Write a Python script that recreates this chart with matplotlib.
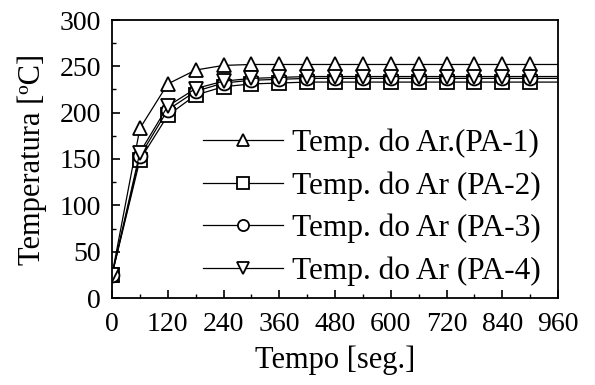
import matplotlib.pyplot as plt
from matplotlib.ticker import MultipleLocator

plt.rcParams['font.family'] = ['Liberation Serif', 'DejaVu Serif']

tempo = [0, 60, 120, 180, 240, 300, 360, 420, 480, 540, 600, 660, 720, 780, 840, 900, 960]
pa1 = [25, 183, 231, 246, 251, 252, 252, 252, 252, 252, 252, 252, 252, 252, 252, 252, 252]
pa2 = [25, 149, 197, 219, 228, 231, 232, 233, 233, 233, 233, 233, 233, 233, 233, 233, 233]
pa3 = [25, 153, 203, 223, 232, 235, 236, 237, 237, 237, 237, 237, 237, 237, 237, 237, 237]
pa4 = [25, 157, 207, 226, 234, 237, 238, 239, 239, 239, 239, 239, 239, 239, 239, 239, 239]
labels = ['Temp. do Ar.(PA-1)', 'Temp. do Ar (PA-2)', 'Temp. do Ar (PA-3)', 'Temp. do Ar (PA-4)']
markers = ['^', 's', 'o', 'v']

fig = plt.figure(figsize=(5.95, 3.85), dpi=100)
ax = fig.add_axes([112 / 595, 87 / 385, 446 / 595, 278 / 385])

for serie, m, lab in zip([pa1, pa2, pa3, pa4], markers, labels):
    ax.plot(tempo, serie, color='black', lw=0.9, marker=m, ms=10,
            mfc='white', mec='black', mew=1.3, markevery=list(range(len(tempo) - 1)),
            label=lab)

ax.set_xlim(0, 960)
ax.set_ylim(0, 300)
ax.xaxis.set_major_locator(MultipleLocator(120))
ax.xaxis.set_minor_locator(MultipleLocator(60))
ax.yaxis.set_major_locator(MultipleLocator(50))
ax.yaxis.set_minor_locator(MultipleLocator(25))
ax.tick_params(which='both', direction='in', labelsize=20, top=False, right=False)
ax.tick_params(which='major', length=6, width=1.2)
ax.tick_params(axis='y', which='major', pad=8)
ax.tick_params(axis='x', which='major', pad=10)
ax.tick_params(which='minor', length=3, width=1.0)
for s in ax.spines.values():
    s.set_linewidth(1.3)

ax.set_xlabel('Tempo [seg.]', fontsize=22, labelpad=6)
ax.set_ylabel('Temperatura [ºC]', fontsize=22, labelpad=9)

ax.legend(loc='upper left', bbox_to_anchor=(0.205, 0.61), frameon=False, fontsize=22.5,
          handlelength=2.55, handletextpad=0.3, labelspacing=0.42, borderaxespad=0,
          borderpad=0, markerscale=0.8)

fig.savefig('out.png', dpi=100)
